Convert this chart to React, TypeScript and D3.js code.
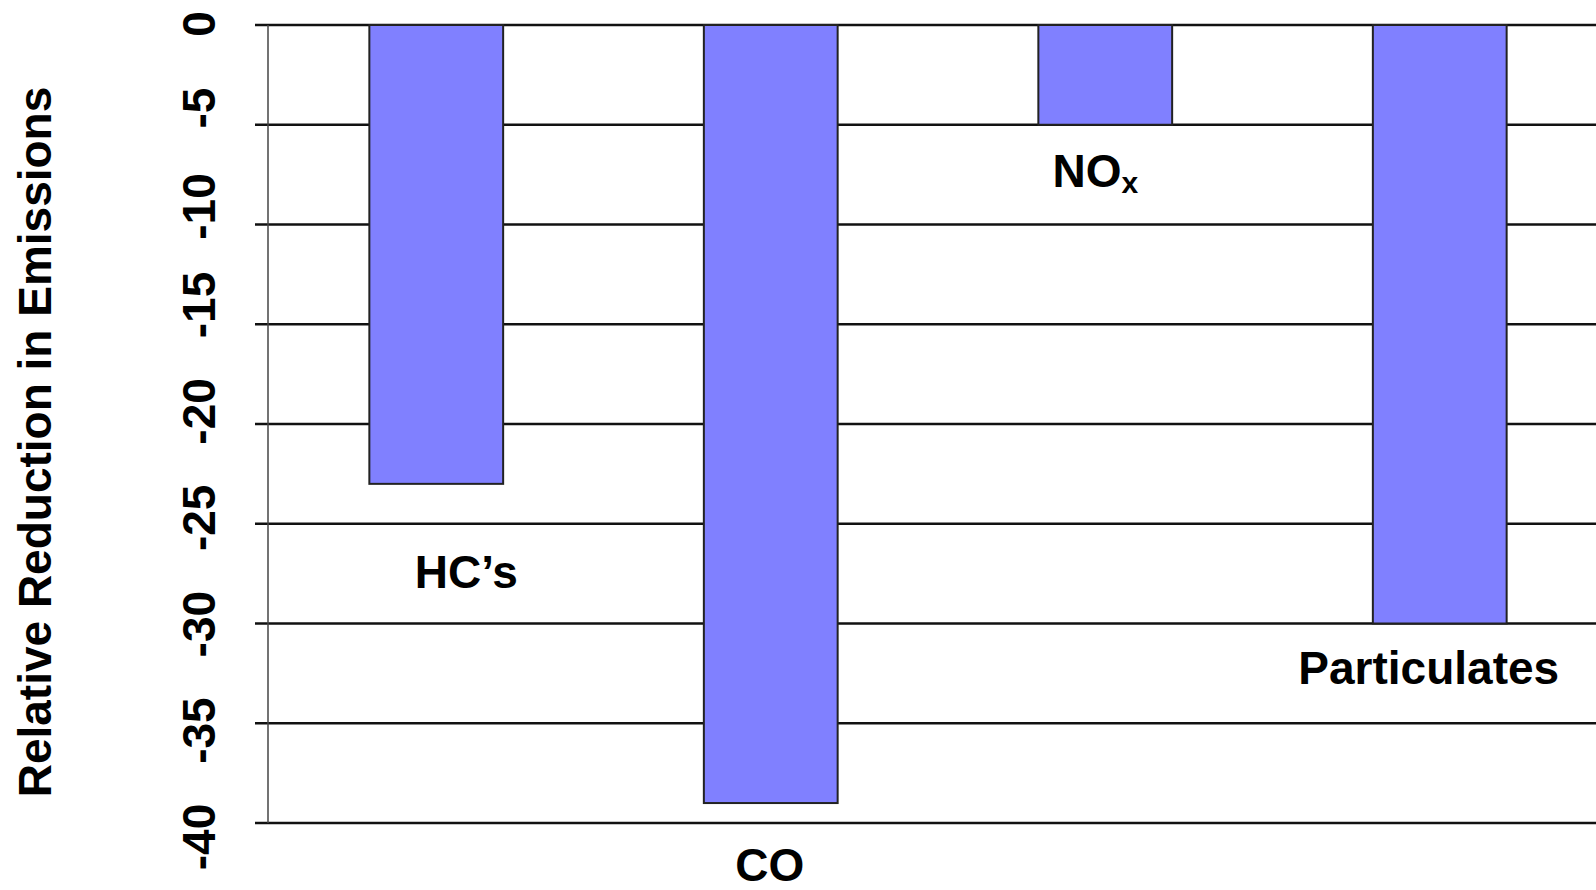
import React from "react";
import * as d3 from "d3";

const categories = ["HC's", "CO", "NOx", "Particulates"];
const values = [-23, -39, -5, -30];
const yTicks = [0, -5, -10, -15, -20, -25, -30, -35, -40];
const yTitle = "Relative Reduction in Emissions";

const W = 1596;
const H = 890;
const FONT = "'Liberation Sans', Arial, Helvetica, sans-serif";

export default function App() {
  const x = d3
    .scaleBand<string>()
    .domain(categories)
    .range([269, 1607])
    .paddingInner(0.6)
    .paddingOuter(0.3);
  const y = d3.scaleLinear().domain([0, -40]).range([25, 823]);
  // tick labels in the source sit slightly off their gridlines
  const yLab = d3.scaleLinear().domain([0, -5, -15, -40]).range([24, 108, 305, 837]);

  // label placement (offset from band center in px, baseline y in px)
  const labelDx = [30, -1, -10, -11];
  const labelY = [588, 881, 187, 684];

  return (
    <svg
      width={W}
      height={H}
      style={{ position: "absolute", left: 0, top: 0, background: "#fff" }}
      fontFamily={FONT}
    >
      <rect x={0} y={0} width={W} height={H} fill="#fff" />
      {/* gridlines */}
      {yTicks.map((t) => (
        <line
          key={"g" + t}
          x1={255}
          x2={W}
          y1={y(t)}
          y2={y(t)}
          stroke="#111"
          strokeWidth={2.5}
        />
      ))}
      {/* axis line */}
      <line x1={268} x2={268} y1={y(0)} y2={y(-40)} stroke="#444" strokeWidth={1.5} />
      {/* tick labels */}
      {yTicks.map((t) => (
        <text
          key={"t" + t}
          transform={`translate(215,${yLab(t)}) rotate(-90)`}
          textAnchor="middle"
          fontSize={46}
          fontWeight="bold"
          fill="#000"
        >
          {t}
        </text>
      ))}
      {/* bars */}
      {categories.map((c, i) => (
        <rect
          key={"b" + c}
          x={x(c)!}
          y={y(0)}
          width={x.bandwidth()}
          height={y(values[i]) - y(0)}
          fill="#8080FF"
          stroke="#222"
          strokeWidth={2}
        />
      ))}
      {/* category labels */}
      {categories.map((c, i) => {
        const cx = x(c)! + x.bandwidth() / 2 + labelDx[i];
        if (c === "NOx") {
          return (
            <text
              key={"l" + c}
              x={cx}
              y={labelY[i]}
              textAnchor="middle"
              fontSize={46}
              fontWeight="bold"
              fill="#000"
            >
              NO
              <tspan fontSize={30} dy={6}>
                x
              </tspan>
            </text>
          );
        }
        return (
          <text
            key={"l" + c}
            x={cx}
            y={labelY[i]}
            textAnchor="middle"
            fontSize={46}
            fontWeight="bold"
            fill="#000"
          >
            {c === "HC's" ? "HC\u2019s" : c}
          </text>
        );
      })}
      {/* y title */}
      <text
        transform={`translate(51,442) rotate(-90)`}
        textAnchor="middle"
        fontSize={46}
        fontWeight="bold"
        fill="#000"
      >
        {yTitle}
      </text>
    </svg>
  );
}
